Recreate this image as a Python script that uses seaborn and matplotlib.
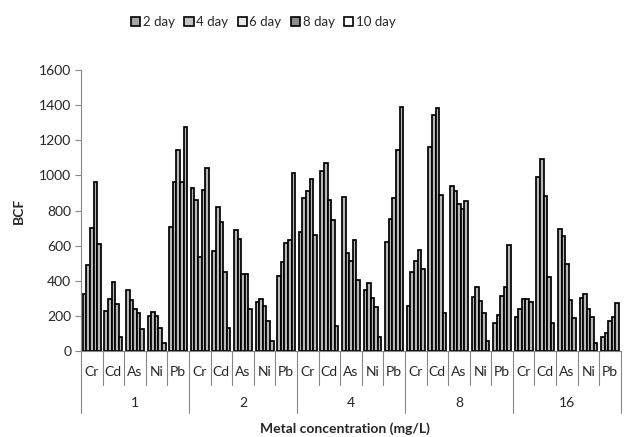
import matplotlib
matplotlib.use('Agg')
import matplotlib.pyplot as plt
import matplotlib.transforms as mtransforms
from matplotlib.patches import Patch
import numpy as np
import pandas as pd
import seaborn as sns

concentrations = ['1', '2', '4', '8', '16']
metals = ['Cr', 'Cd', 'As', 'Ni', 'Pb']
days = ['2 day', '4 day', '6 day', '8 day', '10 day']

# BCF values, one list per exposure day, ordered conc -> metal
day2 = [325, 230, 350, 200, 705, 930, 570, 690, 280, 427, 680, 1025, 879, 347, 622,
        256, 1164, 940, 309, 158, 196, 989, 695, 304, 78]
day4 = [490, 295, 290, 222, 962, 860, 820, 636, 298, 509, 870, 1069, 560, 389, 750,
        448, 1344, 911, 366, 205, 239, 1093, 655, 326, 102]
day6 = [700, 395, 237, 200, 1145, 533, 733, 437, 256, 617, 910, 860, 514, 300, 869,
        514, 1382, 835, 285, 313, 296, 884, 494, 239, 171]
day8 = [960, 270, 215, 133, 965, 915, 448, 437, 173, 632, 978, 746, 630, 249, 1145,
        575, 886, 807, 215, 366, 296, 420, 290, 196, 194]
day10 = [610, 80, 125, 45, 1275, 1040, 129, 237, 57, 1012, 660, 144, 404, 78, 1390,
         465, 218, 854, 59, 604, 277, 158, 186, 44, 275]

day_values = {'2 day': day2, '4 day': day4, '6 day': day6, '8 day': day8, '10 day': day10}
# bars all look the same grey; legend swatches differ slightly
bar_palette = {d: '#b8b8b8' for d in days}
legend_colors = {'2 day': '#a6a6a6', '4 day': '#c4c4c4', '6 day': '#e6e6e6',
                 '8 day': '#8c8c8c', '10 day': '#ffffff'}

cats = [c + '-' + m for c in concentrations for m in metals]
rows = []
for d in days:
    for cat, v in zip(cats, day_values[d]):
        rows.append({'cat': cat, 'day': d, 'BCF': v})
df = pd.DataFrame(rows)

sns.set_style('white')
plt.rcParams['font.family'] = ['Lato', 'DejaVu Sans']

fig = plt.figure(figsize=(6.24, 4.37), dpi=100)
ax = fig.add_axes([0.1298, 0.1968, 0.8652, 0.643])

sns.barplot(data=df, x='cat', y='BCF', hue='day', order=cats, hue_order=days,
            palette=bar_palette, width=0.83, gap=0, edgecolor='black', linewidth=1.25,
            saturation=1, errorbar=None, ax=ax)
ax.get_legend().remove()

grey = '#868686'
ax.set_ylim(0, 1600)
ax.set_xlim(-0.5, len(cats) - 0.5)
ax.set_yticks(range(0, 1601, 200))
ax.tick_params(axis='y', length=4, color=grey, labelsize=10, pad=3, left=True)
ax.set_xticks([])
ax.set_xlabel('')
ax.set_ylabel('BCF', fontsize=10, fontweight='bold', labelpad=10)
for s in ['top', 'right']:
    ax.spines[s].set_visible(False)
for s in ['left', 'bottom']:
    ax.spines[s].set_color(grey)
    ax.spines[s].set_linewidth(0.8)

# two-level category axis
trans = mtransforms.blended_transform_factory(ax.transData, ax.transAxes)
for i in range(len(cats) + 1):
    xs = i - 0.5
    y_end = -0.221 if i % len(metals) == 0 else -0.121
    ax.plot([xs, xs], [0, y_end], color=grey, lw=0.8, transform=trans, clip_on=False)
for i, cat in enumerate(cats):
    ax.text(i, -0.074, cat.split('-')[1], transform=trans, ha='center', va='center', fontsize=10)
for j, c in enumerate(concentrations):
    ax.text(j * len(metals) + 2, -0.185, c, transform=trans, ha='center', va='center', fontsize=10)

fig.text(0.553, 0.02, 'Metal concentration (mg/L)', ha='center', va='center',
         fontsize=10, fontweight='bold')

handles = [Patch(facecolor=legend_colors[d], edgecolor='black', linewidth=1.2, label=d) for d in days]
fig.legend(handles=handles, loc='center', bbox_to_anchor=(0.422, 0.95), ncol=5, frameon=False,
           fontsize=9.5, handlelength=0.7, handleheight=0.7, handletextpad=0.2, columnspacing=0.7)

fig.savefig('out.png', dpi=100)
